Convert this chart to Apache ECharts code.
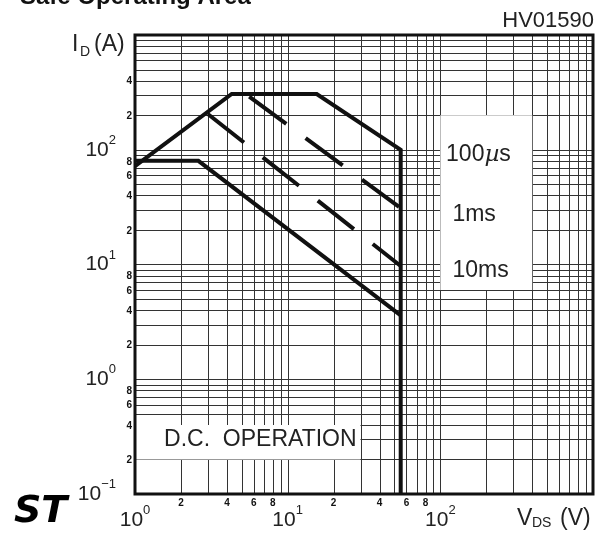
<!DOCTYPE html>
<html>
<head>
<meta charset="utf-8">
<script src="https://cdn.jsdelivr.net/npm/echarts@6.0.0/dist/echarts.min.js"></script>
<style>
  html, body { margin: 0; padding: 0; background: #fff; }
  #main { width: 595px; height: 536px; }
</style>
</head>
<body>
<div id="main"></div>
<script>
// Safe Operating Area, log-log

// grid lines (V)
const vdsGrid = [2, 3, 4, 5, 6, 7, 8, 9, 10, 20, 30, 40, 50, 60, 70, 80, 90, 100, 200, 300, 400, 500, 600, 700, 800, 900]
// grid lines (A)
const idGrid = [0.2, 0.3, 0.4, 0.5, 0.6, 0.7, 0.8, 0.9, 1, 2, 3, 4, 5, 6, 7, 8, 9, 10, 20, 30, 40, 50, 60, 70, 80, 90, 100, 200, 300, 400, 500, 600, 700, 800, 900]

// small tick labels
const vdsTickLabels = [2, 4, 6, 8, 20, 40, 60, 80]
const idTickLabels = [0.2, 0.4, 0.6, 0.8, 2, 4, 6, 8, 20, 40, 60, 80, 200, 400]

// curves
const vds100us = [1, 4.3, 15.5, 55, 55]
const id100us = [72, 306, 306, 100, 0.1]
const vds1ms = [5.6, 55]
const id1ms = [290, 31]
const vds10ms = [3.0, 55]
const id10ms = [205, 9.7]
const vdsDC = [1, 2.6, 55]
const idDC = [80, 80, 3.6]

// notes inside the plot
const noteText = ['100{mu|µ}s', '1ms', '10ms', 'D.C.  OPERATION']
const noteVds = [109, 120, 120, 1.55]
const noteId = [90, 27, 8.8, 0.295]

const X_MIN = 1, X_MAX = 1000, Y_MIN = 0.1, Y_MAX = 1000
const FONT = '"Liberation Sans", Arial, sans-serif'
const gridColor = '#333'
const ink = '#111'

let myChart = echarts.init(document.getElementById('main'))

function pairs(xs, ys) {
  return xs.map((v, i) => [v, ys[i]])
}

function powLabel(value) {
  const e = Math.round(Math.log10(value))
  if (e >= 3) return ''
  return '{b|10}{s|' + (e < 0 ? '\u2212' + (-e) : e) + '}'
}

const powRich = {
  b: { fontSize: 21, fontFamily: FONT, color: '#222', lineHeight: 32 },
  s: { fontSize: 13, fontFamily: FONT, color: '#222', lineHeight: 13, verticalAlign: 'top' }
}

function leadDigit(v) {
  return String(Math.round(v / Math.pow(10, Math.floor(Math.log10(v) + 1e-9))))
}

function vLine(params, api) {
  const x = api.value(0)
  const a = api.coord([x, Y_MAX])
  const b = api.coord([x, Y_MIN])
  const px = Math.round(a[0]) + 0.5
  return { type: 'line', shape: { x1: px, y1: a[1], x2: px, y2: b[1] }, style: { stroke: gridColor, lineWidth: 1 } }
}

function hLine(params, api) {
  const y = api.value(1)
  const a = api.coord([X_MIN, y])
  const b = api.coord([X_MAX, y])
  const py = Math.round(a[1]) + 0.5
  return { type: 'line', shape: { x1: a[0], y1: py, x2: b[0], y2: py }, style: { stroke: gridColor, lineWidth: 1 } }
}

function whiteBox(params, api) {
  const a = api.coord([api.value(0), api.value(1)])
  const b = api.coord([api.value(2), api.value(3)])
  return {
    type: 'rect',
    shape: { x: Math.min(a[0], b[0]), y: Math.min(a[1], b[1]), width: Math.abs(b[0] - a[0]), height: Math.abs(b[1] - a[1]) },
    style: { fill: '#fff' }
  }
}

function xTickText(params, api) {
  const p = api.coord([api.value(0), Y_MIN])
  return { type: 'text', x: p[0], y: p[1] + 9, style: { text: leadDigit(api.value(0)), font: 'bold 10px ' + FONT, fill: ink, align: 'center', verticalAlign: 'middle' } }
}

function yTickText(params, api) {
  const p = api.coord([X_MIN, api.value(1)])
  return { type: 'text', x: p[0] - 3, y: p[1] + 1, style: { text: leadDigit(api.value(1)), font: 'bold 10px ' + FONT, fill: ink, align: 'right', verticalAlign: 'middle' } }
}

function drawNote(params, api) {
  const p = api.coord([api.value(0), api.value(1)])
  return {
    type: 'text', x: p[0], y: p[1],
    style: {
      text: noteText[params.dataIndex], fill: '#222', font: '23px ' + FONT, fontSize: 23, fontFamily: FONT,
      align: 'left', verticalAlign: 'middle',
      rich: { mu: { fontStyle: 'italic', fontSize: 23, fontFamily: '"DejaVu Serif", serif', fill: '#222' } }
    }
  }
}

function curve(name, xs, ys, dashed) {
  return {
    name: name,
    type: 'line',
    z: 5,
    data: pairs(xs, ys),
    symbol: 'none',
    silent: true,
    clip: false,
    lineStyle: { color: ink, width: 4, type: dashed ? [46, 24] : 'solid', join: 'miter', cap: 'butt' }
  }
}

let option = {
  animation: false,
  backgroundColor: '#fff',
  grid: {
    left: 135, right: 2, top: 35, bottom: 42,
    show: true, z: 10,
    backgroundColor: 'transparent',
    borderColor: ink, borderWidth: 3,
    outerBoundsMode: 'none'
  },
  xAxis: {
    type: 'log', logBase: 10, min: X_MIN, max: X_MAX,
    axisLine: { show: false }, axisTick: { show: false }, splitLine: { show: false },
    axisLabel: { formatter: powLabel, rich: powRich, margin: 10, color: '#222' }
  },
  yAxis: {
    type: 'log', logBase: 10, min: Y_MIN, max: Y_MAX,
    axisLine: { show: false }, axisTick: { show: false }, splitLine: { show: false },
    axisLabel: { formatter: powLabel, rich: powRich, margin: 19, color: '#222' }
  },
  graphic: [
    { type: 'text', x: 20, y: -3, style: { text: 'Safe Operating Area', font: 'bold 24px ' + FONT, fill: ink, verticalAlign: 'middle' } },
    { type: 'text', x: 594, y: 21, style: { text: 'HV01590', font: '22px ' + FONT, fill: '#222', align: 'right', verticalAlign: 'middle' } },
    { type: 'text', x: 72, y: 45, style: { text: 'I', font: '23px ' + FONT, fill: '#222', verticalAlign: 'middle' } },
    { type: 'text', x: 80, y: 52, style: { text: 'D', font: '14px ' + FONT, fill: '#222', verticalAlign: 'middle' } },
    { type: 'text', x: 94, y: 45, style: { text: '(A)', font: '23px ' + FONT, fill: '#222', verticalAlign: 'middle' } },
    { type: 'text', x: 517, y: 519, style: { text: 'V', font: '23px ' + FONT, fill: '#222', verticalAlign: 'middle' } },
    { type: 'text', x: 532, y: 523, style: { text: 'DS', font: '14px ' + FONT, fill: '#222', verticalAlign: 'middle' } },
    { type: 'text', x: 560, y: 519, style: { text: '(V)', font: '23px ' + FONT, fill: '#222', verticalAlign: 'middle' } },
    { type: 'text', x: 14, y: 512, style: { text: 'ST', font: 'italic 900 38px "DejaVu Sans", sans-serif', fill: '#000', verticalAlign: 'middle' } }
  ],
  series: [
    { type: 'custom', name: 'vgrid', z: 1, silent: true, encode: { x: 0, y: 1 }, data: vdsGrid.map(v => [v, Y_MIN]), renderItem: vLine },
    { type: 'custom', name: 'hgrid', z: 1, silent: true, encode: { x: 0, y: 1 }, data: idGrid.map(v => [X_MIN, v]), renderItem: hLine },
    {
      type: 'custom', name: 'boxes', z: 2, silent: true, encode: { x: [0, 2], y: [1, 3] },
      data: [[100, 6, 400, 200], [1, 0.2, 30, 0.4]],
      renderItem: whiteBox
    },
    { type: 'custom', name: 'xticks', z: 3, silent: true, encode: { x: 0, y: 1 }, data: vdsTickLabels.map(v => [v, Y_MIN]), renderItem: xTickText },
    { type: 'custom', name: 'yticks', z: 3, silent: true, encode: { x: 0, y: 1 }, data: idTickLabels.map(v => [X_MIN, v]), renderItem: yTickText },
    { type: 'custom', name: 'notes', z: 3, silent: true, encode: { x: 0, y: 1 }, data: pairs(noteVds, noteId), renderItem: drawNote },
    curve('100us', vds100us, id100us, false),
    curve('1ms', vds1ms, id1ms, true),
    curve('10ms', vds10ms, id10ms, true),
    curve('DC', vdsDC, idDC, false)
  ]
}

myChart.setOption(option)
</script>
</body>
</html>
